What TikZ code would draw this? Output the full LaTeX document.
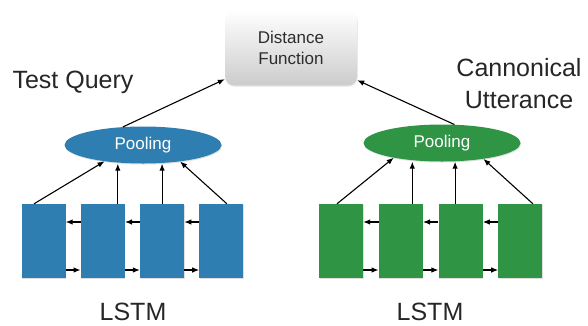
\documentclass[tikz,border=0pt]{standalone}
\usepackage{fontspec}
\setmainfont{Liberation Sans}
\usepackage{tikz}
\usetikzlibrary{arrows,arrows.meta,shapes.geometric,shadows}

\definecolor{qblue}{RGB}{47,126,178}
\definecolor{cgreen}{RGB}{48,148,69}
\definecolor{txtgray}{RGB}{45,45,45}

\tikzset{
  cell/.style={minimum width=44pt, minimum height=74pt, inner sep=0pt,
    drop shadow={shadow xshift=0.6pt, shadow yshift=-0.8pt, opacity=0.25}},
  pool/.style={ellipse, minimum width=157pt, minimum height=37pt, inner sep=0pt,
    text=white, font=\fontsize{17}{20}\selectfont,
    drop shadow={shadow xshift=0.6pt, shadow yshift=-1pt, opacity=0.25}},
  big/.style={font=\fontsize{25}{32}\selectfont, text=black!85},
  arr/.style={-{Latex[length=7pt,width=5.5pt]}, line width=1.1pt},
}

\begin{document}
\begin{tikzpicture}[x=1pt,y=-1pt]
\useasboundingbox (0,0) rectangle (588,325);

% distance function
\node (dist) [rounded corners=9pt, minimum width=132pt, minimum height=75pt,
  top color=white, bottom color=black!20, text=txtgray, align=center,
  font=\fontsize{17}{21}\selectfont,
  drop shadow={shadow xshift=0.5pt, shadow yshift=-1.5pt, opacity=0.25}]
  at (291,47.5) {Distance\\Function};

% pooling
\node (poolq) [pool, fill=qblue] at (143,145) {Pooling};
\node (poolc) [pool, fill=cgreen] at (442,143) {Pooling};

% lstm cells
\foreach \i in {1,...,4}
    \node (q\i) [cell, fill=qblue] at ({43.5+59.3*(\i-1)},241) {};
\foreach \i in {1,...,4}
    \node (c\i) [cell, fill=cgreen] at ({341+59.8*(\i-1)},241) {};

% recurrent connections
\foreach \a/\b in {1/2,2/3,3/4} {
    \draw[arr] ([yshift=19pt]q\b.west) -- ([yshift=19pt]q\a.east);
    \draw[arr] ([yshift=-29pt]q\a.east) -- ([yshift=-29pt]q\b.west);
    \draw[arr] ([yshift=19pt]c\b.west) -- ([yshift=19pt]c\a.east);
    \draw[arr] ([yshift=-29pt]c\a.east) -- ([yshift=-29pt]c\b.west);
}

% cells to pooling
\draw[arr] ([xshift=-9.5pt]q1.north) -- (poolq.203);
\draw[arr] ([xshift=15pt]q2.north) -- ([xshift=15pt]q2.north |- poolq.south);
\draw[arr] (q3.north) -- (q3.north |- poolq.south);
\draw[arr] ([xshift=5.5pt]q4.north) -- (poolq.336);

\draw[arr] ([xshift=-4pt]c1.north) -- (poolc.197);
\draw[arr] ([xshift=11.5pt]c2.north) -- ([xshift=11.5pt]c2.north |- poolc.south);
\draw[arr] ([xshift=-5.5pt]c3.north) -- ([xshift=-5.5pt]c3.north |- poolc.south);
\draw[arr] ([xshift=12.5pt]c4.north) -- (poolc.339);

% pooling to distance
\draw[arr] (poolq.138) -- ([yshift=6pt]dist.south west);
\draw[arr] (poolc.56) -- ([yshift=5pt]dist.south east);

% labels
\node (tq) [big] at (73,82) {Test Query};
\node (cu) [big, align=center] at (519,84) {Cannonical\\Utterance};
\node (lq) [big, inner sep=0pt] at (133,311.5) {LSTM};
\node (lc) [big, inner sep=0pt] at (430,311.5) {LSTM};

\end{tikzpicture}
\end{document}
